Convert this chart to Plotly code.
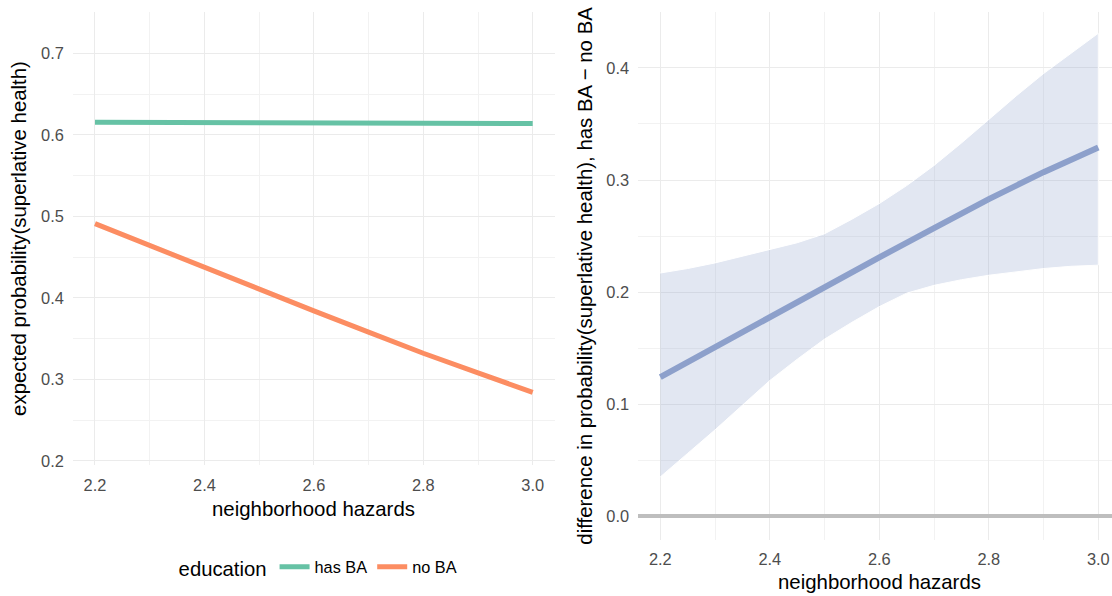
import plotly.graph_objects as go

# ---- data ----
hazards = [2.2, 2.3, 2.4, 2.5, 2.6, 2.7, 2.8, 2.9, 3.0]
p_has_ba = [0.6155, 0.6153, 0.6151, 0.6149, 0.6147, 0.6145, 0.6143, 0.6140, 0.6138]
p_no_ba = [0.491, 0.464, 0.438, 0.411, 0.384, 0.358, 0.332, 0.308, 0.284]
diff_est = [0.124, 0.151, 0.178, 0.204, 0.231, 0.257, 0.283, 0.307, 0.329]
ribbon_hazards = [2.2, 2.25, 2.3, 2.35, 2.4, 2.45, 2.5, 2.55, 2.6,
                  2.65, 2.7, 2.75, 2.8, 2.85, 2.9, 2.95, 3.0]
diff_upper = [0.217, 0.221, 0.226, 0.232, 0.238, 0.244, 0.252, 0.265, 0.279,
              0.295, 0.313, 0.333, 0.354, 0.375, 0.395, 0.413, 0.431]
diff_lower = [0.035, 0.056, 0.077, 0.099, 0.121, 0.140, 0.158, 0.173, 0.187,
              0.199, 0.206, 0.211, 0.215, 0.218, 0.221, 0.223, 0.224]
series_names = ["has BA", "no BA"]
x_title = "neighborhood hazards"
y_title_left = "expected probability(superlative health)"
y_title_right = "difference in probability(superlative health), has BA \u2212 no BA"
legend_title = "education"

W, H = 1112, 596
FONT = "Liberation Sans, Arial, Helvetica, sans-serif"
GREEN, ORANGE, BLUE = "#66C2A5", "#FC8D62", "#8DA0CB"
GRID, MINOR = "#EBEBEB", "#F2F2F2"
TICKC = "#4D4D4D"


def px_x(p):
    return p / W


def px_y(p):
    return 1 - p / H


fig = go.Figure()

# left panel lines
fig.add_trace(go.Scatter(x=hazards, y=p_has_ba, mode="lines", name=series_names[0],
                         line=dict(color=GREEN, width=5), xaxis="x", yaxis="y"))
fig.add_trace(go.Scatter(x=hazards, y=p_no_ba, mode="lines", name=series_names[1],
                         line=dict(color=ORANGE, width=5), xaxis="x", yaxis="y"))

# right panel ribbon + line
rib_x = ribbon_hazards + ribbon_hazards[::-1]
rib_y = diff_upper + diff_lower[::-1]
fig.add_trace(go.Scatter(x=rib_x, y=rib_y, mode="lines", fill="toself",
                         fillcolor="rgba(141,160,203,0.25)",
                         line=dict(color="white", width=1),
                         showlegend=False, hoverinfo="skip", xaxis="x2", yaxis="y2"))
fig.add_trace(go.Scatter(x=hazards, y=diff_est, mode="lines", showlegend=False,
                         line=dict(color=BLUE, width=6), xaxis="x2", yaxis="y2"))

tickfont = dict(family=FONT, size=16.4, color=TICKC)


def xax(domain, rng):
    return dict(domain=domain, range=rng, tick0=2.2, dtick=0.2, showgrid=True,
                gridcolor=GRID, gridwidth=1.2, zeroline=False, showline=False,
                ticks="outside", ticklen=5, tickcolor="rgba(0,0,0,0)",
                tickfont=tickfont, tickformat=".1f", ticklabeloverflow="allow",
                minor=dict(tick0=2.1, dtick=0.1, showgrid=True, gridcolor=MINOR, gridwidth=0.7))


left_x = [px_x(73.1), px_x(554.6)]
right_x = [px_x(638.4), 1.0]
left_y = [px_y(468.5), px_y(12.4)]
right_y = [px_y(543.3), px_y(11.7)]

fig.update_layout(
    width=W, height=H, margin=dict(l=0, r=0, t=0, b=0),
    paper_bgcolor="white", plot_bgcolor="white",
    font=dict(family=FONT, color="black"),
    xaxis=dict(anchor="y", **xax(left_x, [2.16, 3.04])),
    xaxis2=dict(anchor="y2", **xax(right_x, [2.16, 2.16 + (W - 638.4) / 547.5])),
    yaxis=dict(domain=left_y, range=[0.1945, 0.7502], tick0=0.2, dtick=0.1,
               showgrid=True, gridcolor=GRID, gridwidth=1.2, zeroline=False,
               ticks="outside", ticklen=5, tickcolor="rgba(0,0,0,0)",
               tickfont=tickfont, tickformat=".1f", anchor="x",
               minor=dict(tick0=0.15, dtick=0.05, showgrid=True, gridcolor=MINOR, gridwidth=0.7)),
    yaxis2=dict(domain=right_y, range=[-0.021, 0.4503], tick0=0.0, dtick=0.1,
                showgrid=True, gridcolor=GRID, gridwidth=1.2,
                zeroline=True, zerolinecolor="#BEBEBE", zerolinewidth=4,
                ticks="outside", ticklen=5, tickcolor="rgba(0,0,0,0)",
                tickfont=tickfont, tickformat=".1f", anchor="x2",
                minor=dict(tick0=0.05, dtick=0.05, showgrid=True, gridcolor=MINOR, gridwidth=0.7)),
    showlegend=True,
    legend=dict(orientation="h", x=px_x(176.6), xanchor="left", y=px_y(572), yanchor="middle",
                title=dict(text=legend_title, font=dict(family=FONT, size=20.3, color="black"), side="left"),
                font=dict(family=FONT, size=16.3, color="black"), itemwidth=30,
                bgcolor="rgba(0,0,0,0)"),
    annotations=[
        dict(text=x_title, x=px_x(313.9), y=px_y(512), xref="paper", yref="paper",
             xanchor="center", yanchor="middle", showarrow=False,
             font=dict(family=FONT, size=20.4, color="black")),
        dict(text=x_title, x=px_x(879), y=px_y(586), xref="paper", yref="paper",
             xanchor="center", yanchor="middle", showarrow=False,
             font=dict(family=FONT, size=20.4, color="black")),
        dict(text=y_title_left, x=px_x(19), y=px_y(240.5), xref="paper", yref="paper",
             xanchor="center", yanchor="middle", textangle=-90, showarrow=False,
             font=dict(family=FONT, size=20.4, color="black")),
        dict(text=y_title_right, x=px_x(585), y=px_y(277.5), xref="paper", yref="paper",
             xanchor="center", yanchor="middle", textangle=-90, showarrow=False,
             font=dict(family=FONT, size=20.4, color="black")),
    ],
)

# remove the default 8px page margin so the figure fills the window exactly
fig.write_html("out.html",
               config={"displayModeBar": False},
               post_script="document.body.style.margin='0';document.body.style.overflow='hidden';")
